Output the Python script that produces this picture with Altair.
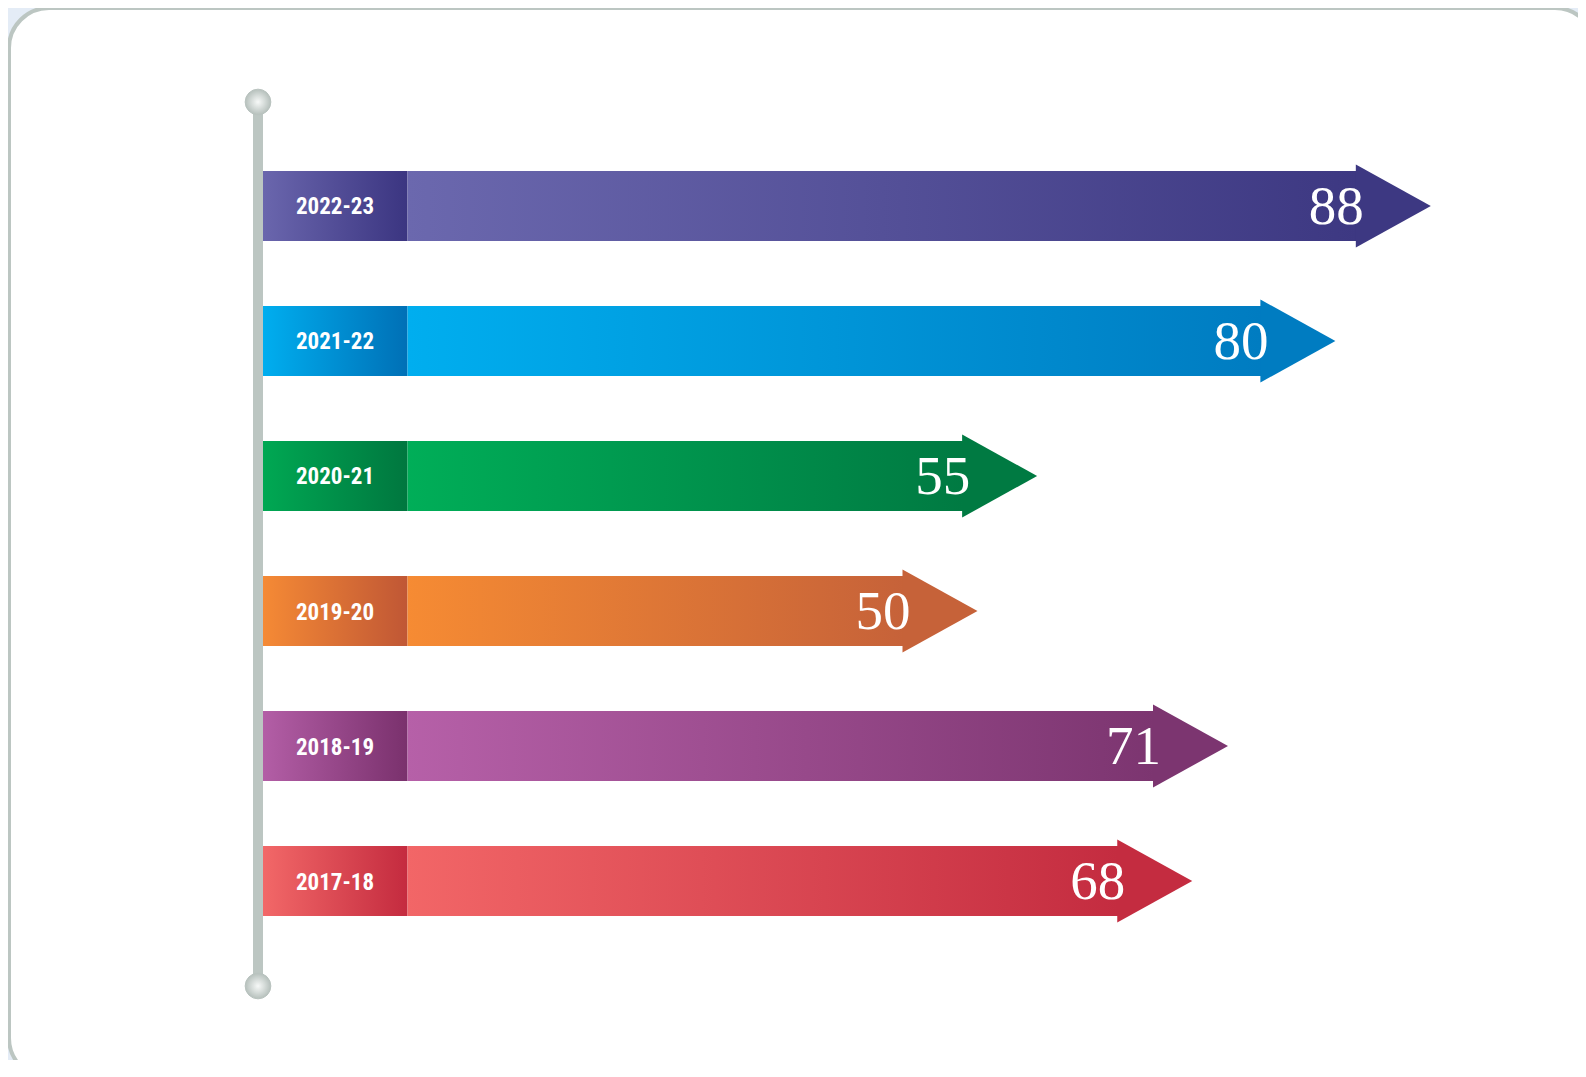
import altair as alt
import pandas as pd

# ---- data ----
years = ["2022-23", "2021-22", "2020-21", "2019-20", "2018-19", "2017-18"]
values = [88, 80, 55, 50, 71, 68]

box_light = ["#6a66ad", "#00aeef", "#00a853", "#f58a35", "#b35ea6", "#f26868"]
box_dark = ["#3b3581", "#0070b6", "#00773f", "#c05735", "#7a316d", "#c42b3f"]
body_light = ["#6b68ae", "#00aeef", "#00ae58", "#f68b33", "#b660a8", "#f26667"]
body_dark = ["#3d3882", "#007cc1", "#007a42", "#c66239", "#7c3570", "#c42c40"]

df = pd.DataFrame({"year": years, "value": values})
one = pd.DataFrame({"k": [0]})

W, H = 1570, 1052
x_scale = alt.Scale(domain=[0, 100], range=[299, 1492])
y_scale = alt.Scale(domain=years, range=[130.5, 940.5],
                    paddingInner=0.4815, paddingOuter=0.2407)
X = alt.X("value:Q", scale=x_scale, axis=None)
Y = alt.Y("year:N", scale=y_scale, axis=None, sort=years)

HEAD = "M0,-1L1.807,0L0,1Z"
YFONT = "Liberation Sans Narrow, Roboto Condensed, DejaVu Sans Condensed, Arial Narrow, sans-serif"


def lin(c0, c1):
    return alt.LinearGradient(
        gradient="linear",
        stops=[alt.GradientStop(offset=0, color=c0), alt.GradientStop(offset=1, color=c1)],
        x1=0, x2=1, y1=0, y2=0,
    )


knob_grad = alt.RadialGradient(
    gradient="radial",
    stops=[alt.GradientStop(offset=0, color="#f7f9f8"),
           alt.GradientStop(offset=1, color="#b6c0bc")],
    x1=0.5, y1=0.5, r1=0, x2=0.5, y2=0.5, r2=0.5,
)

card = alt.Chart(one).mark_rect(
    fill="white", stroke="#bcc6c2", strokeWidth=4, cornerRadius=40
).encode(x=alt.value(1), x2=alt.value(1587), y=alt.value(0), y2=alt.value(1070))

pole = alt.Chart(one).mark_rule(color="#bcc6c2", strokeWidth=10).encode(
    x=alt.value(250), y=alt.value(94), y2=alt.value(978)
)


def knob(yv):
    return alt.Chart(one).mark_point(
        shape="circle", filled=True, fill=knob_grad, size=660, opacity=1,
        stroke="#b9c3bf", strokeWidth=1
    ).encode(x=alt.value(250), y=alt.value(yv))


layers = [card, pole, knob(94), knob(978)]

for i, yr in enumerate(years):
    base = alt.Chart(df).transform_filter(alt.datum.year == yr)
    layers.append(
        base.mark_rect(fill=lin(box_light[i], box_dark[i])).encode(
            x=alt.value(255), x2=alt.value(399.5), y=Y)
    )
    layers.append(
        base.mark_rect(fill=lin(body_light[i], body_dark[i])).encode(
            x=X, x2=alt.value(399.5), y=Y)
    )
    layers.append(
        base.mark_point(shape=HEAD, size=6889, filled=True, fill=body_dark[i],
                        opacity=1, strokeWidth=0, xOffset=-1).encode(x=X, y=Y)
    )

year_text = alt.Chart(df).mark_text(
    font=YFONT, fontSize=23, fontWeight="bold", color="white",
    align="center", baseline="alphabetic", dy=8.5
).encode(x=alt.value(327), y=Y, text="year:N")

val_text = alt.Chart(df).mark_text(
    font="Liberation Serif, Times New Roman, serif", fontSize=55, color="white",
    align="right", baseline="alphabetic", dx=7, dy=18
).encode(x=X, y=Y, text="value:Q")

layers += [year_text, val_text]

chart = alt.layer(*layers).properties(
    width=W, height=H, background="#e4ecf6", padding=0,
    autosize=alt.AutoSizeParams(type="none"),
).configure_view(stroke=None)

chart.save("out.html", embed_options={"renderer": "svg", "actions": False})
